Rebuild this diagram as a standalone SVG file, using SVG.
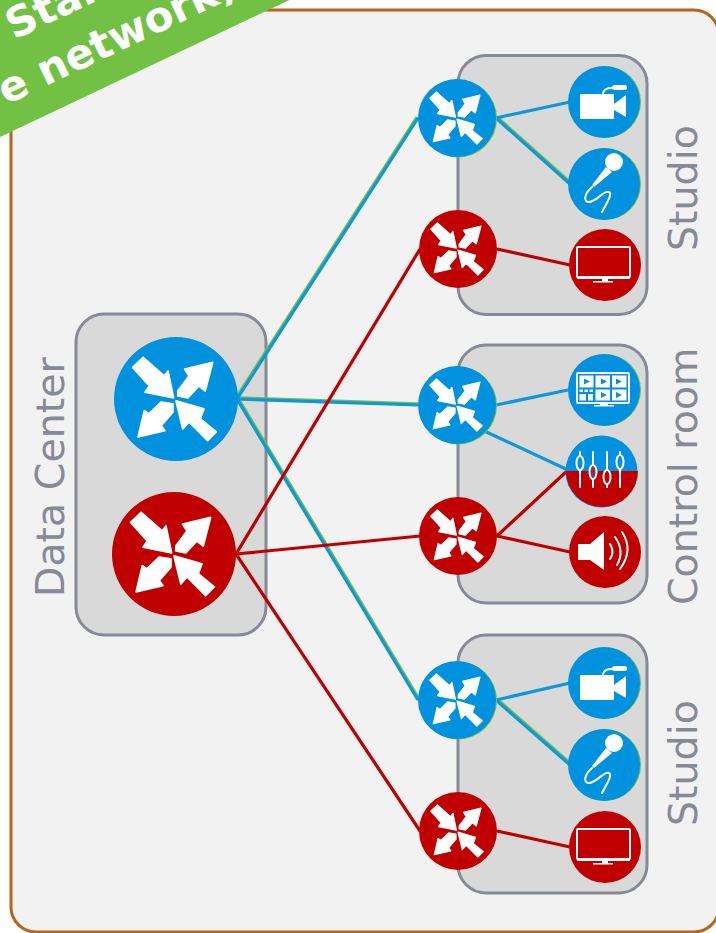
<svg xmlns="http://www.w3.org/2000/svg" xmlns:xlink="http://www.w3.org/1999/xlink" width="716" height="933" viewBox="0 0 716 933">
<style>
.box{fill:#d9d9d9;stroke:#868a96;stroke-width:3}
.lbl{font-family:"DejaVu Sans",sans-serif;font-size:39.5px;fill:#868a96}
.ban{font-family:"DejaVu Sans",sans-serif;font-size:42px;font-weight:bold;fill:#fff}
.b{fill:#0091df}.r{fill:#c00000}.rim{fill:#72c144}
.lb,.lr,.lg{fill:none;stroke-width:3.2}
.lb{stroke:#0f97dc}.lr{stroke:#c00000}.lg{stroke:#72c144}
.w{fill:#fff}.ws{fill:none;stroke:#fff;stroke-width:2;stroke-linecap:round}
.ar{fill:#fff;stroke:#fff;stroke-width:3;stroke-linejoin:round}
</style>
<defs>
<g id="arrows" class="ar">
<path d="M-70,-51L-53,-67L-19,-37L-13,-45L-4,-2L-50,-11L-43,-21Z"/>
<path d="M59,-59L14,-48L21,-37L3,-13L3,-5L19,-2L37,-21L47,-13Z"/>
<path d="M-61,61L-51,19L-44,24L-24,5L-5,8L-5,21L-24,43L-18,51Z"/>
<path d="M0,3L45,16L39,32L65,53L51,67L21,37L11,48Z"/>
</g>
<g id="camera" class="w">
<rect x="-24" y="-8" width="34" height="25" rx="1"/>
<path d="M10,2L22,-7V15L10,8Z"/>
<rect x="8" y="-17" width="15" height="5" rx="2.500"/>
<path class="ws" d="M-1,-9C0,-13 4,-14 8,-14" stroke-width="1.200"/>
</g>
<g id="mic">
<circle class="w" cx="10" cy="-22" r="9"/>
<path class="w" d="M2,-17L8,-12L-10,3L-12,1Z"/>
<path class="ws" d="M-12,3C-20,10-21,18-15,18C-8,18 0,6 5,8C9,10 2,20-2,28"/>
</g>
<g id="tv">
<rect class="ws" x="-28" y="-18" width="53" height="30" rx="1"/>
<path class="w" d="M-28,11H25V14H-28ZM-3,14H3V16H-3ZM-12,16H8V17.500H-12Z"/>
</g>
</defs>

<rect id="panel" x="11" y="10" width="708" height="922" rx="25" fill="#f2f2f2" stroke="#b5651d" stroke-width="3"/>

<g id="group-datacenter"><rect class="box" x="76" y="314" width="190" height="321" rx="28"/><text class="lbl" transform="translate(64,597) rotate(-90)">Data Center</text></g>
<g id="group-studio1"><rect class="box" x="458" y="55.500" width="189" height="259" rx="28"/><text class="lbl" transform="translate(697,251) rotate(-90)">Studio</text></g>
<g id="group-control"><rect class="box" x="458" y="345" width="189" height="258" rx="28"/><text class="lbl" transform="translate(697,605) rotate(-90)">Control room</text></g>
<g id="group-studio2"><rect class="box" x="458" y="635" width="189" height="258" rx="28"/><text class="lbl" transform="translate(697,826) rotate(-90)">Studio</text></g>

<g id="connectors">
<g class="lg">
<path transform="translate(-1,-1)" d="M237,399L418,118"/>
<path transform="translate(0,-1.200)" d="M237,399L418,405"/>
<path transform="translate(1,-1)" d="M237,399L418,700M496,118L570,184M496,700L570,765"/>
</g>
<g class="lb">
<path d="M237,399L418,118M237,399L418,405M237,399L418,700M496,118L570,102M496,118L570,184M496,405L568,390M480,429L568,470M496,700L570,683M496,700L570,765"/>
</g>
<g class="lr">
<path d="M236,554L420,249M236,554L420,536M236,554L420,831M497,249L570,265M497,536L567,471M497,536L570,552M497,831L570,847"/>
</g>
</g>

<g id="dc-blue"><circle class="b" cx="176" cy="399" r="62"/><use href="#arrows" transform="translate(176,399) scale(.62)"/></g>
<g id="dc-red"><circle class="r" cx="174" cy="554" r="62"/><use href="#arrows" transform="translate(174,554) scale(.62)"/></g>

<g id="s1-blue"><circle class="rim" cx="458" cy="118.500" r="39"/><circle class="b" cx="457" cy="118" r="39"/><use href="#arrows" transform="translate(457,118) scale(.39)"/></g>
<g id="s1-red"><circle class="r" cx="458" cy="249" r="39"/><use href="#arrows" transform="translate(458,249) scale(.39)"/></g>
<g id="c-blue"><circle class="rim" cx="458" cy="405.500" r="39"/><circle class="b" cx="457" cy="405" r="39"/><use href="#arrows" transform="translate(457,405) scale(.39)"/></g>
<g id="c-red"><circle class="r" cx="458" cy="536" r="39"/><use href="#arrows" transform="translate(458,536) scale(.39)"/></g>
<g id="s2-blue"><circle class="rim" cx="458" cy="700.500" r="39"/><circle class="b" cx="457" cy="700" r="39"/><use href="#arrows" transform="translate(457,700) scale(.39)"/></g>
<g id="s2-red"><circle class="r" cx="458" cy="831" r="39"/><use href="#arrows" transform="translate(458,831) scale(.39)"/></g>

<g id="s1-camera"><circle class="rim" cx="605" cy="102" r="36"/><circle class="b" cx="604" cy="102" r="36"/><use href="#camera" x="604" y="102"/></g>
<g id="s1-mic"><circle class="rim" cx="605" cy="184" r="36"/><circle class="b" cx="604" cy="184" r="36"/><use href="#mic" x="604" y="184"/></g>
<g id="s1-tv"><circle class="r" cx="605" cy="265" r="36"/><use href="#tv" x="605" y="265"/></g>

<g id="c-wall"><circle class="rim" cx="605" cy="390" r="36"/><circle class="b" cx="604" cy="390" r="36"/>
<g transform="translate(604,390)">
<rect class="ws" x="-27" y="-17" width="52" height="30" rx="1"/>
<path class="w" d="M-24.500,-14.500H-10.500V-2.500H-24.500ZM-8.500,-14.500H6V-2.500H-8.500ZM8,-14.500H22.500V-2.500H8ZM-8.500,-.5H6V10.500H-8.500ZM8,-.5H22.500V10.500H8ZM-24.500,-.5H-21V2H-24.500ZM-19.500,-.5H-16V2H-19.500ZM-14.500,-.5H-11V2H-14.500ZM-24.500,4H-18V10.500H-24.500ZM-16,4H-11V10.500H-16Z"/>
<path class="b" d="M-20,-11.500L-14,-8.500L-20,-5.500ZM-3,-11.500L3,-8.500L-3,-5.500ZM12,-11.500L18,-8.500L12,-5.500ZM-3,2L3,5L-3,8ZM12,2L18,5L12,8Z"/>
<path class="w" d="M-4,13H4V15H-4ZM-10,15H10V16.500H-10Z"/>
</g></g>
<g id="c-mixer"><circle class="b" cx="601.500" cy="471.500" r="36"/>
<path class="r" d="M566,471H638A36,36 0 0 1 566,471Z"/>
<g transform="translate(602,471)">
<path class="ws" d="M-22,-19V16M-9,-19V16M5,-19V16M18,-19V16"/>
<ellipse cx="-22" cy="-8" rx="3.500" ry="7" class="b" stroke="#fff" stroke-width="2"/>
<ellipse cx="-9" cy="1" rx="3.500" ry="7" fill="#8a2f50" stroke="#fff" stroke-width="2"/>
<ellipse cx="5" cy="6" rx="3.500" ry="7" class="r" stroke="#fff" stroke-width="2"/>
<ellipse cx="18" cy="-9" rx="3.500" ry="7" class="b" stroke="#fff" stroke-width="2"/>
</g></g>
<g id="c-speaker"><circle class="r" cx="605" cy="552" r="36"/>
<g transform="translate(605,552)">
<path class="w" d="M-27,-8H-15L-1,-20V18L-15,8H-27Z"/>
<path class="ws" d="M5,-8Q10,0 5,7M10,-15Q20,-1 12,13M17,-20Q29,-2 15,17"/>
</g></g>

<g id="s2-camera"><circle class="rim" cx="605" cy="683" r="36"/><circle class="b" cx="604" cy="683" r="36"/><use href="#camera" x="604" y="683"/></g>
<g id="s2-mic"><circle class="rim" cx="605" cy="765" r="36"/><circle class="b" cx="604" cy="765" r="36"/><use href="#mic" x="604" y="765"/></g>
<g id="s2-tv"><circle class="r" cx="605" cy="847" r="36"/><use href="#tv" x="605" y="847"/></g>

<g id="banner">
<path d="M0,137L300,-5H0Z" fill="#72c144"/>
<text class="ban" transform="translate(14,40) rotate(-25.300)">Star</text>
<text class="ban" transform="translate(6,105) rotate(-25.300)">e network)</text>
</g>
</svg>
